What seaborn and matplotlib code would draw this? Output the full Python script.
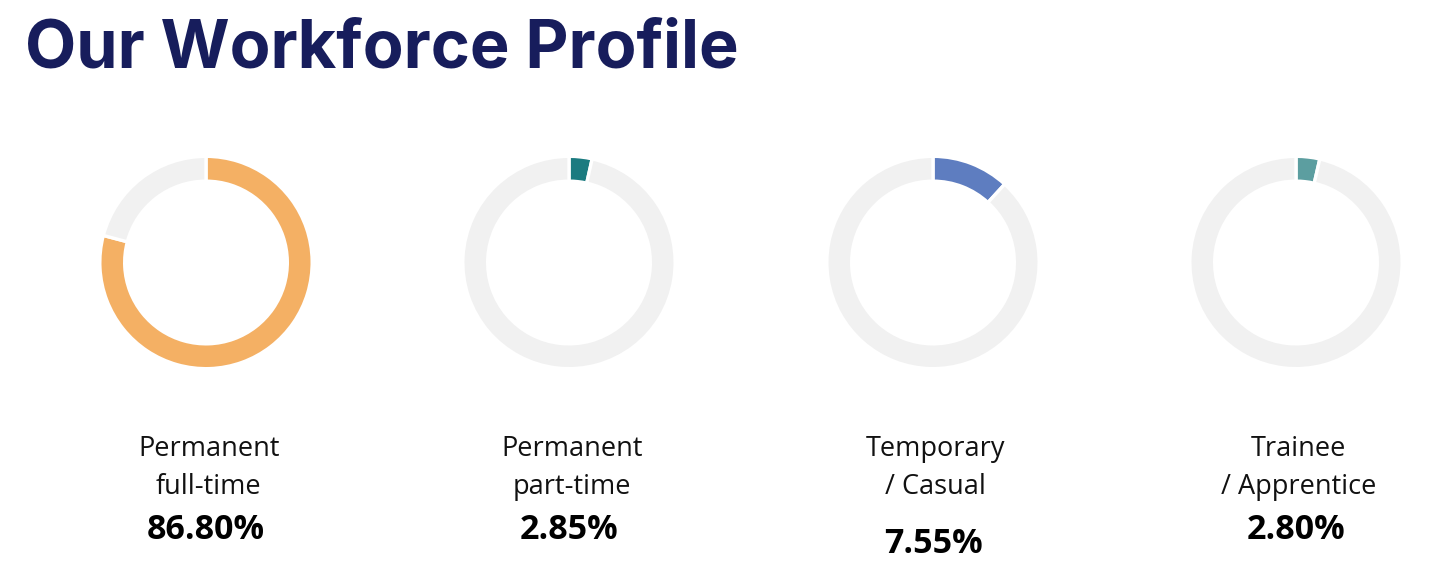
import matplotlib
matplotlib.use("Agg")
import matplotlib.pyplot as plt
import seaborn as sns

sns.set_theme(style="white")
plt.rcParams['font.family'] = ['Open Sans', 'DejaVu Sans']

# ---- data ----
categories = ["Permanent\nfull-time", "Permanent\npart-time", "Temporary\n/ Casual", "Trainee\n/ Apprentice"]
pct_labels = ["86.80%", "2.85%", "7.55%", "2.80%"]
arc_share = [79.1, 3.5, 11.8, 3.6]          # filled share of each ring as drawn
colors = ["#F4B064", "#1B7B80", "#5E7DC0", "#5C9EA0"]
track_color = "#F1F1F1"
title = "Our Workforce Profile"

W, H = 1452, 572
fig = plt.figure(figsize=(W / 100, H / 100), dpi=100)
fig.patch.set_facecolor("white")

centers_x = [206, 569, 933, 1296]
cy = 262.5
R = 104.5
ring = 21.5
lw_pt = 2.4
lw_px = lw_pt * 100 / 72
pct_y = [530, 530, 544, 530]

for i, (cat, pl, share, col) in enumerate(zip(categories, pct_labels, arc_share, colors)):
    cx = centers_x[i]
    box = R + 4
    ax = fig.add_axes([(cx - box) / W, 1 - (cy + box) / H, 2 * box / W, 2 * box / H])
    outer = R + lw_px / 2
    ax.pie([share, 100 - share], colors=[col, track_color], startangle=90,
           counterclock=False, radius=outer,
           wedgeprops=dict(width=ring + lw_px, edgecolor="white", linewidth=lw_pt))
    ax.set_xlim(-box, box)
    ax.set_ylim(-box, box)
    ax.set_aspect("equal")
    ax.axis("off")
    lines = cat.split("\n")
    fig.text(cx / W + 0.002, 1 - 449 / H, lines[0], ha="center", va="center",
             fontsize=19.5, color="#111111")
    fig.text(cx / W + 0.002, 1 - 487 / H, lines[1], ha="center", va="center",
             fontsize=19.5, color="#111111")
    fig.text(cx / W, 1 - pct_y[i] / H, pl, ha="center", va="center",
             fontsize=24.5, fontweight="bold", color="#000000")

fig.text(25 / W, 1 - 68 / H, title, ha="left", va="baseline",
         fontsize=48, fontweight="bold", color="#171D5C", family=["Inter", "DejaVu Sans"])

fig.savefig("out.png", dpi=100, facecolor="white")
